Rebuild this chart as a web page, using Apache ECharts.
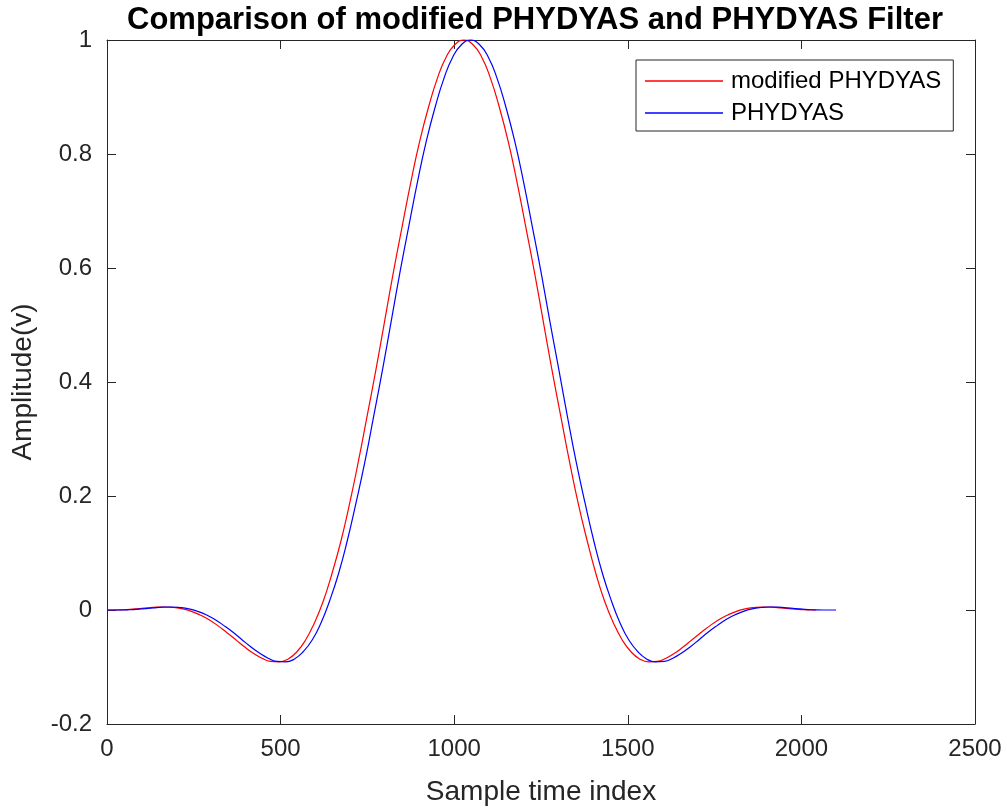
<!DOCTYPE html>
<html>
    <head>
        <meta charset="UTF-8">
        <title>PHYDYAS</title>
        <script src="https://cdn.jsdelivr.net/npm/echarts@6/dist/echarts.min.js"></script>
        <style>
            html, body { margin: 0; padding: 0; background: #fff; }
            #main { width: 1007px; height: 810px; }
        </style>
    </head>
    <body>
        <div id="main"></div>
        <script>
            // values
            var redX = [0, 15, 40, 66, 91, 116, 142, 167, 192, 218, 243, 268, 294, 319, 344, 370, 395, 420, 446, 471, 496,
                        522, 547, 572, 597, 623, 648, 674, 699, 724, 749, 775, 800, 825, 851, 876, 901, 927, 952, 977, 1003,
                        1028, 1053, 1079, 1104, 1129, 1155, 1180, 1205, 1231, 1256, 1281, 1307, 1332, 1357, 1383, 1408, 1433, 1459, 1484, 1509,
                        1534, 1560, 1585, 1610, 1636, 1661, 1686, 1712, 1737, 1762, 1788, 1813, 1838, 1864, 1889, 1914, 1940, 1965, 1990, 2016, 2041];
            var redY = [0, 0, 0.0003, 0.001, 0.0025, 0.0039, 0.005, 0.0053, 0.0044, 0.002, -0.0023,
                        -0.0087, -0.0171, -0.0274, -0.0391, -0.0516, -0.0641, -0.0755, -0.0846, -0.0902, -0.0910,
                        -0.0858, -0.0733, -0.0527, -0.0231, 0.0158, 0.0641, 0.1215, 0.1874, 0.2606, 0.3397,
                        0.4229, 0.5082, 0.5932, 0.6757, 0.7532, 0.8234, 0.8842, 0.9336, 0.9703, 0.9925, 1,
                        0.9925, 0.9703, 0.9336, 0.8842, 0.8234, 0.7532, 0.6757, 0.5932, 0.5082, 0.4229,
                        0.3397, 0.2606, 0.1874, 0.1215, 0.0641, 0.0158, -0.0231, -0.0527, -0.0733, -0.0858,
                        -0.0910, -0.0902, -0.0846, -0.0755, -0.0641, -0.0516, -0.0391, -0.0274, -0.0171, -0.0087,
                        -0.0023, 0.002, 0.0044, 0.0053, 0.005, 0.0039, 0.0025, 0.001, 0.0003, 0];
            var blueX = [0, 33, 58, 84, 109, 134, 160, 185, 210, 236, 261, 287, 312, 337, 363, 388, 413, 439, 464, 489, 515,
                         540, 565, 591, 616, 641, 667, 692, 717, 743, 768, 794, 819, 844, 870, 895, 920, 946, 971, 996, 1022,
                         1047, 1072, 1098, 1123, 1148, 1174, 1199, 1224, 1250, 1275, 1301, 1326, 1351, 1377, 1402, 1427, 1453, 1478, 1503, 1529,
                         1554, 1579, 1605, 1630, 1655, 1681, 1706, 1731, 1757, 1782, 1808, 1833, 1858, 1884, 1909, 1934, 1960, 1985, 2010, 2036, 2061, 2100];
            var blueY = [0, 0, 0.0003, 0.001, 0.0025, 0.0039, 0.005, 0.0053, 0.0044, 0.002, -0.0023,
                         -0.0087, -0.0171, -0.0274, -0.0391, -0.0516, -0.0641, -0.0755, -0.0846, -0.0902, -0.0910,
                         -0.0858, -0.0733, -0.0527, -0.0231, 0.0158, 0.0641, 0.1215, 0.1874, 0.2606, 0.3397,
                         0.4229, 0.5082, 0.5932, 0.6757, 0.7532, 0.8234, 0.8842, 0.9336, 0.9703, 0.9925, 1,
                         0.9925, 0.9703, 0.9336, 0.8842, 0.8234, 0.7532, 0.6757, 0.5932, 0.5082, 0.4229,
                         0.3397, 0.2606, 0.1874, 0.1215, 0.0641, 0.0158, -0.0231, -0.0527, -0.0733, -0.0858,
                         -0.0910, -0.0902, -0.0846, -0.0755, -0.0641, -0.0516, -0.0391, -0.0274, -0.0171, -0.0087,
                         -0.0023, 0.002, 0.0044, 0.0053, 0.005, 0.0039, 0.0025, 0.001, 0.0003, 0, 0];
            var seriesNames = ['modified PHYDYAS', 'PHYDYAS'];

            function pairs(xs, ys) {
                var out = [];
                for (var i = 0; i < xs.length; i++) out.push([xs[i], ys[i]]);
                return out;
            }

            var axisColor = '#262626';
            var font = 'Liberation Sans, Arial, sans-serif';

            var boxAxis = {
                type: 'value',
                axisLine: { show: true, onZero: false, lineStyle: { color: axisColor, width: 1 } },
                axisTick: { show: true, inside: true, length: 9, lineStyle: { color: axisColor } },
                axisLabel: { show: false },
                splitLine: { show: false }
            };

            var chart = echarts.init(document.getElementById('main'));
            chart.setOption({
                animation: false,
                title: {
                    text: 'Comparison of modified PHYDYAS and PHYDYAS Filter',
                    left: 530,
                    textAlign: 'center',
                    top: 0,
                    textStyle: { fontFamily: font, fontWeight: 'bold', fontSize: 31, color: '#000' }
                },
                legend: {
                    data: seriesNames,
                    orient: 'vertical',
                    left: 636,
                    top: 60,
                    padding: [9, 12, 6, 9],
                    icon: 'rect',
                    itemWidth: 78,
                    itemHeight: 1.5,
                    itemGap: 8,
                    backgroundColor: '#fff',
                    borderColor: axisColor,
                    borderWidth: 1,
                    borderRadius: 0,
                    textStyle: { fontFamily: font, fontSize: 24, color: '#000', lineHeight: 24, padding: [0, 0, 0, 3] }
                },
                grid: { left: 107, right: 32, top: 40, bottom: 86, outerBoundsMode: 'none' },
                xAxis: [{
                    type: 'value',
                    min: 0, max: 2500, interval: 500,
                    name: 'Sample time index',
                    nameLocation: 'middle',
                    nameGap: 54,
                    nameTextStyle: { fontFamily: font, fontSize: 28, color: axisColor },
                    axisLine: { show: true, onZero: false, lineStyle: { color: axisColor, width: 1 } },
                    axisTick: { show: true, inside: true, length: 9, lineStyle: { color: axisColor } },
                    axisLabel: { fontFamily: font, fontSize: 24, color: axisColor, margin: 13,
                                 formatter: function (v) { return String(v); } },
                    splitLine: { show: false }
                }, Object.assign({}, boxAxis, { position: 'top', min: 0, max: 2500, interval: 500 })],
                yAxis: [{
                    type: 'value',
                    min: -0.2, max: 1, interval: 0.2,
                    name: 'Amplitude(v)',
                    nameLocation: 'middle',
                    nameGap: 70,
                    nameTextStyle: { fontFamily: font, fontSize: 28, color: axisColor },
                    axisLine: { show: true, onZero: false, lineStyle: { color: axisColor, width: 1 } },
                    axisTick: { show: true, inside: true, length: 9, lineStyle: { color: axisColor } },
                    axisLabel: { fontFamily: font, fontSize: 24, color: axisColor, margin: 15 },
                    splitLine: { show: false }
                }, Object.assign({}, boxAxis, { position: 'right', min: -0.2, max: 1, interval: 0.2 })],
                series: [{
                    name: seriesNames[0],
                    type: 'line',
                    data: pairs(redX, redY),
                    smooth: true,
                    symbol: 'none',
                    clip: false,
                    color: '#ff0000',
                    lineStyle: { width: 1.2, color: '#ff0000' }
                }, {
                    name: seriesNames[1],
                    type: 'line',
                    data: pairs(blueX, blueY),
                    smooth: true,
                    symbol: 'none',
                    clip: false,
                    color: '#0000ff',
                    lineStyle: { width: 1.2, color: '#0000ff' }
                }]
            });
        </script>
    </body>
</html>
